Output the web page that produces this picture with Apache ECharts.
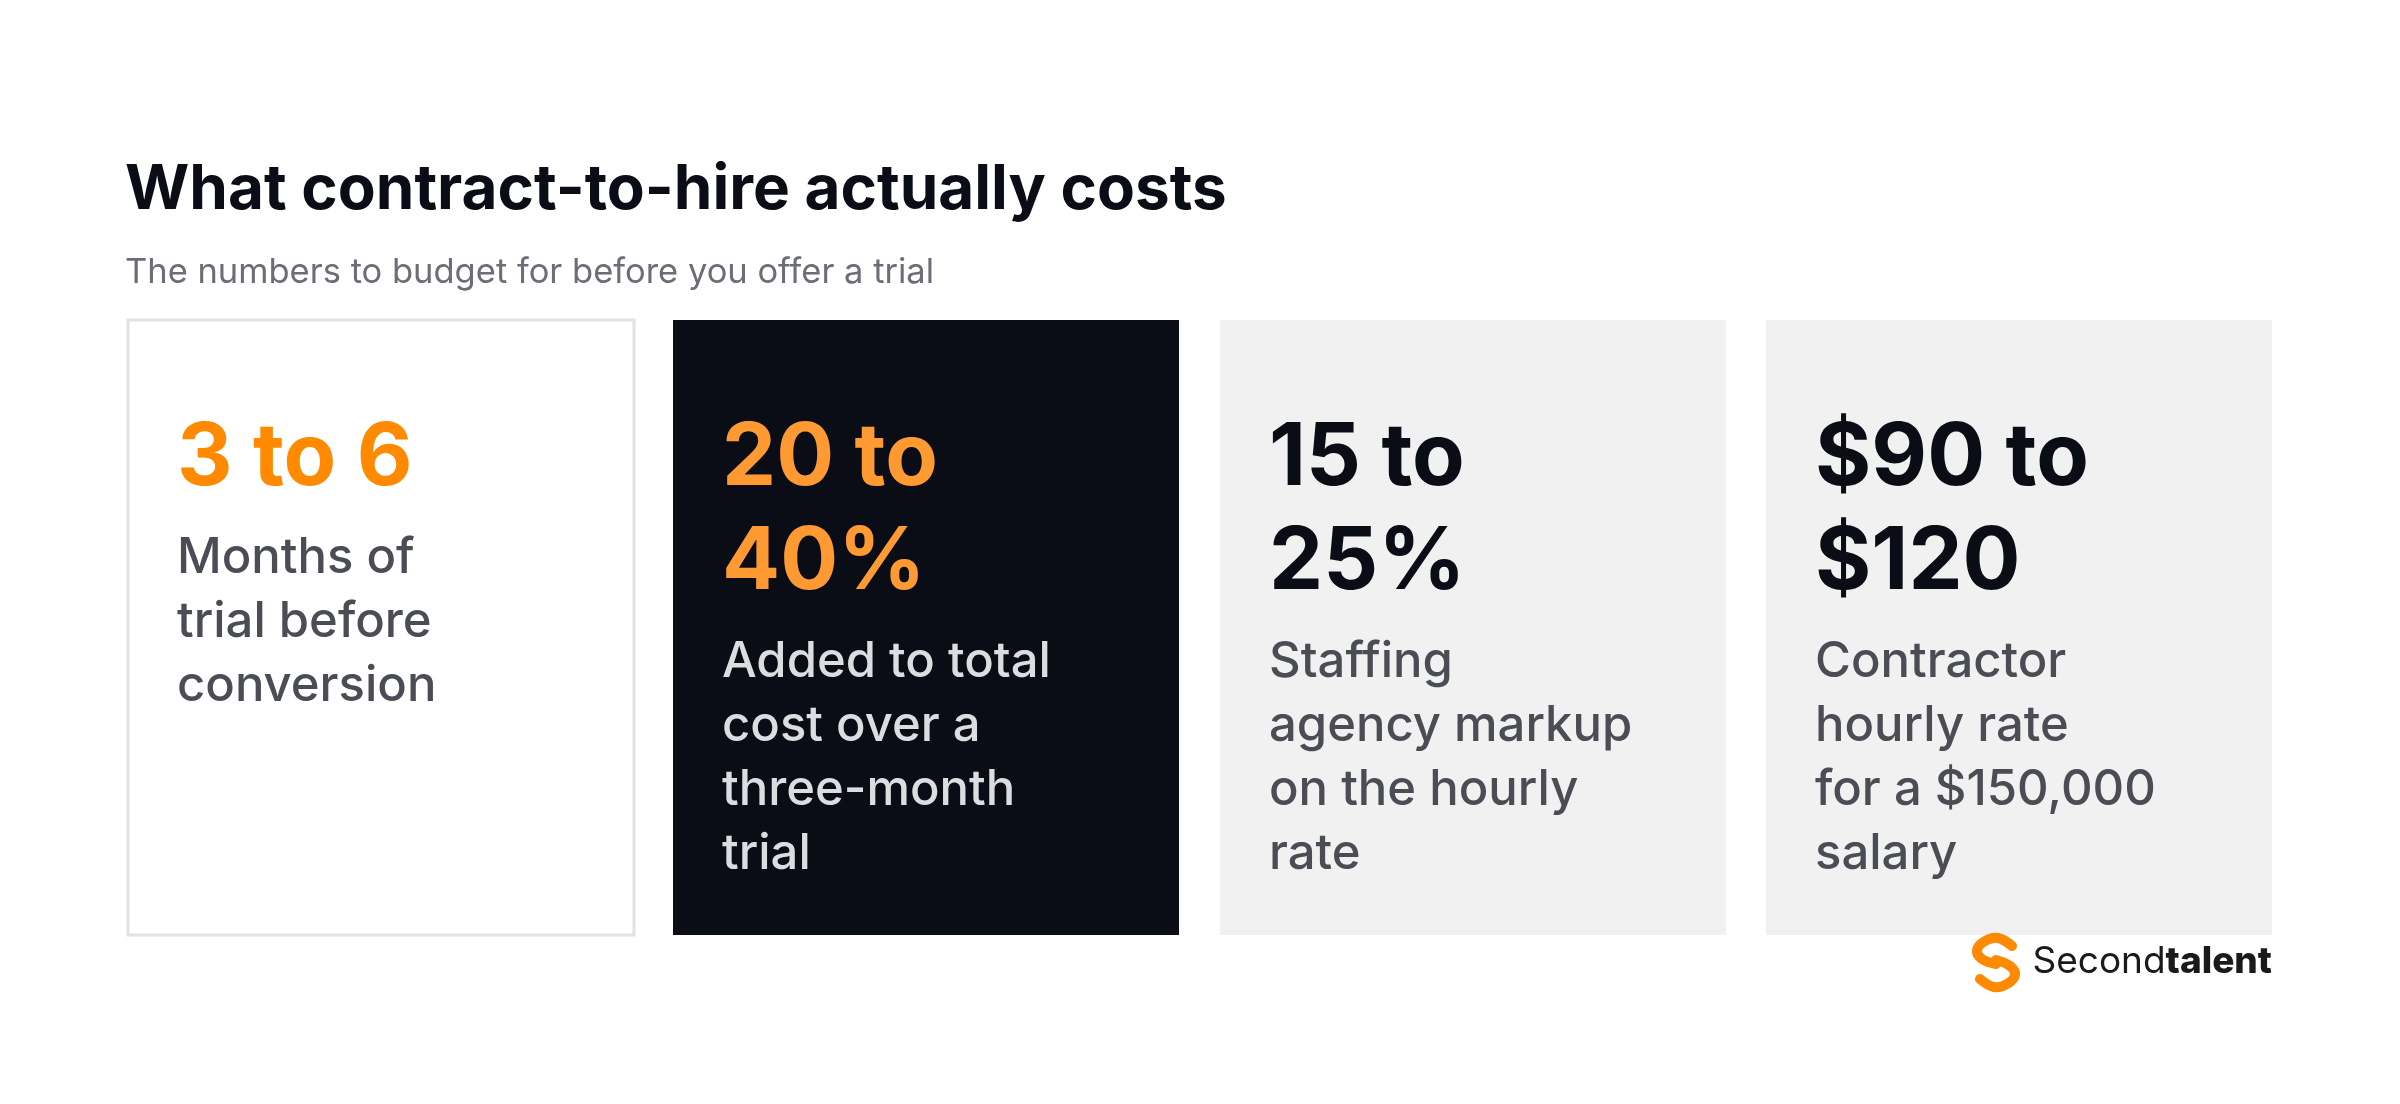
<!DOCTYPE html>
<html>
<head>
<meta charset="utf-8">
<script src="https://cdn.jsdelivr.net/npm/echarts@6/dist/echarts.min.js"></script>
<style>html,body{margin:0;padding:0;background:#fff}#chart{width:2400px;height:1104px}</style>
</head>
<body>
<div id="chart"></div>
<script>
// card contents
const figures = ['3 to 6', '20 to\n40%', '15 to\n25%', '$90 to\n$120'];
const notes = [
  'Months of\ntrial before\nconversion',
  'Added to total\ncost over a\nthree-month\ntrial',
  'Staffing\nagency markup\non the hourly\nrate',
  'Contractor\nhourly rate\nfor a $150,000\nsalary'
];
const figureLines = [1, 2, 2, 2];

const cardX = [128, 673, 1220, 1766];
const cardW = 506, cardTop = 320, cardH = 615;
const cardFill = ['#ffffff', '#0a0d16', '#f0f1f0', '#f0f1f0'];
const figColor = ['#ff8a00', '#ff9a33', '#0a0d16', '#0a0d16'];
const noteColor = ['#4b4d55', '#dcdde0', '#4b4d55', '#4b4d55'];

const chart = echarts.init(document.getElementById('chart'));
const els = [];

cardX.forEach((x, i) => {
  els.push({
    type: 'rect',
    shape: {x: x, y: cardTop, width: cardW, height: cardH},
    style: {fill: cardFill[i], stroke: i === 0 ? '#e2e2e2' : null, lineWidth: i === 0 ? 3 : 0}
  });
  els.push({
    type: 'text',
    style: {
      text: figures[i], x: x + 49, y: 407, verticalAlign: 'top',
      font: '700 86px Inter', lineHeight: 104, fill: figColor[i]
    }
  });
  els.push({
    type: 'text',
    style: {
      text: notes[i], x: x + 49, y: 407 + figureLines[i] * 104 + 15, verticalAlign: 'top',
      font: '500 49px Inter', lineHeight: 64, fill: noteColor[i]
    }
  });
});

// logo: two rounded hooks forming an S
const logoStroke = {stroke: '#ff8a00', lineWidth: 10, lineCap: 'round', lineJoin: 'round', fill: null};
els.push({
  type: 'polyline',
  shape: {points: [[2012, 946], [1998, 938], [1985, 941], [1977, 950], [1982, 959], [1996, 964]], smooth: 0.4},
  style: logoStroke
});
els.push({
  type: 'polyline',
  shape: {points: [[1996, 960], [2010, 966], [2015, 975], [2007, 984], [1994, 987], [1980, 979]], smooth: 0.4},
  style: logoStroke
});
els.push({
  type: 'text',
  style: {
    text: '{a|Second}{b|talent}', x: 2272, y: 962, align: 'right', verticalAlign: 'middle',
    rich: {
      a: {font: '400 37px Inter', fill: '#1a1a1a'},
      b: {font: '800 37px Inter', fill: '#1a1a1a'}
    }
  }
});

chart.setOption({
  title: {
    text: 'What contract-to-hire actually costs',
    subtext: 'The numbers to budget for before you offer a trial',
    left: 120, top: 154, itemGap: 34,
    textStyle: {fontFamily: 'Inter', fontWeight: 700, fontSize: 62, color: '#0a0d16'},
    subtextStyle: {fontFamily: 'Inter', fontWeight: 400, fontSize: 34.5, color: '#6b6e76'}
  },
  graphic: els
});
</script>
</body>
</html>
